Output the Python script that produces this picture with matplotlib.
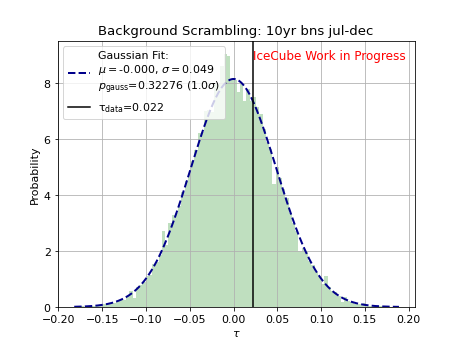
import numpy as np
from matplotlib import pyplot as plt

# histogram of scrambled tau values (normalised)
bin_lo, bin_hi = -0.182, 0.189
heights = [
    0.01, 0.00, 0.02, 0.00, 0.03, 0.02, 0.05, 0.04, 0.08, 0.10,
    0.09, 0.15, 0.16, 0.22, 0.30, 0.25, 0.40, 0.58, 0.32, 0.70,
    0.78, 0.88, 1.10, 1.15, 1.52, 1.62, 1.85, 2.72, 2.20, 3.00,
    3.28, 3.35, 3.62, 4.10, 4.50, 4.75, 5.20, 5.60, 6.20, 6.25,
    7.00, 7.05, 6.95, 7.95, 8.00, 8.60, 9.05, 8.95, 8.15, 8.10,
    7.68, 7.96, 7.37, 7.79, 7.37, 7.50, 7.15, 6.90, 6.35, 5.90,
    5.65, 4.40, 5.00, 4.60, 4.20, 3.90, 3.35, 3.00, 2.70, 2.00,
    2.10, 1.95, 1.65, 1.50, 1.25, 1.10, 0.82, 1.12, 0.72, 0.58,
    0.55, 0.40, 0.17, 0.36, 0.22, 0.18, 0.12, 0.10, 0.10, 0.14,
    0.05, 0.04, 0.03, 0.02, 0.03, 0.00, 0.01, 0.00, 0.00, 0.01,
]

# gaussian fit results
mu = -0.000
sigma = 0.049
p_gauss = 0.32276
n_sigma = 1.0
tau_data = 0.022


def main():
    plt.rcParams['font.size'] = 11
    fig = plt.figure(figsize=(6.4, 4.8), dpi=72)

    edges = np.linspace(bin_lo, bin_hi, len(heights) + 1)
    centers = 0.5 * (edges[1:] + edges[:-1])
    plt.hist(centers, bins=edges, weights=heights, color='g', alpha=0.25)

    xs = np.linspace(bin_lo, bin_hi, 500)
    pdf = np.exp(-(xs - mu) ** 2 / (2 * sigma ** 2)) / (np.sqrt(2 * np.pi) * sigma)
    label = ('Gaussian Fit:\n$\\mu=$%.3f, $\\sigma=$%.3f\n'
             '$p_{\\rm gauss}$=%.5f (%.1f$\\sigma$)' % (mu, sigma, p_gauss, n_sigma))
    plt.plot(xs, pdf, '--', color='darkblue', lw=2, label=label)

    plt.axvline(tau_data, color='k', lw=1.5,
                label='$\\mathrm{\\tau_{data}}$=%.3f' % tau_data)
    plt.text(tau_data, 8.95, 'IceCube Work in Progress', color='red',
             fontsize=12, va='center')

    plt.xlim(-0.201, 0.207)
    plt.grid(True)
    plt.legend(loc='upper left')
    plt.title('Background Scrambling: 10yr bns jul-dec')
    plt.xlabel('$\\tau$')
    plt.ylabel('Probability')

    fig.savefig('out.png', dpi=72)


if __name__ == '__main__':
    main()
